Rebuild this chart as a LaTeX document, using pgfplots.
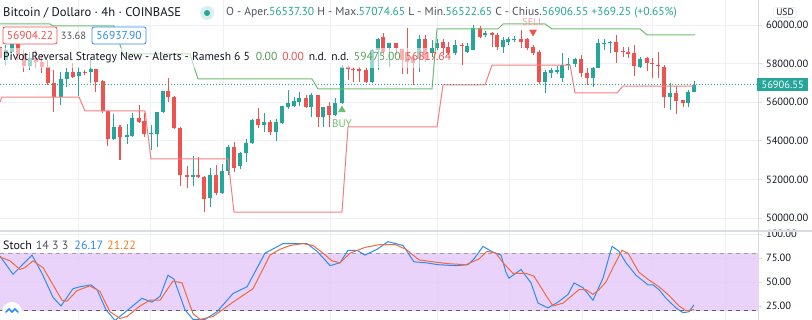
\documentclass[border=0pt]{standalone}
\usepackage{pgfplots}
\usepackage{pgfplotstable}
\pgfplotsset{compat=1.18}
\usepackage{fontspec}
\setmainfont{PT Sans}
\definecolor{tvgreen}{HTML}{26A69A}
\definecolor{tvred}{HTML}{EF5350}
\definecolor{pivgreen}{HTML}{6DBF70}
\definecolor{pivred}{HTML}{F67E82}
\definecolor{txt}{HTML}{131722}
\definecolor{txtgray}{HTML}{50535E}
\definecolor{gridc}{HTML}{EEF0F6}
\definecolor{band}{RGB}{229,200,250}
\definecolor{kblue}{HTML}{2E8CF0}
\definecolor{dorange}{HTML}{F4683A}
\definecolor{lblorange}{HTML}{FF7A1A}
\definecolor{sepc}{HTML}{D9DCE3}

\pgfplotstableread{
x o h l c
6 58186 58964 57927 58704
12 58601 59326 58290 59015
30 57876 58601 57668 58290
61 56269 57565 55855 57202
67 57202 57772 56788 57565
79 57357 57824 56321 57565
91 57565 58186 56995 57720
114 54093 55389 54042 54715
127 54197 54871 53834 54301
132 54249 55440 54197 55181
151 54352 54819 53523 54404
157 54352 55492 53679 55492
163 55492 56580 55440 56580
193 52125 53213 51658 52228
210 51037 52591 50570 52228
222 51296 52798 51244 52435
228 52435 53783 52228 53679
240 52695 53420 52539 53368
246 53368 54093 52902 53886
252 53886 55130 53834 55078
264 54819 55440 54456 54974
276 54456 55130 53990 54974
282 54922 55803 54871 55803
288 55751 56632 55648 55959
294 55803 56269 55751 56062
299 56010 56528 55803 56218
311 55751 56477 55233 56373
323 55233 55751 54715 55751
335 55337 56218 55285 55959
342 55959 57927 55907 57824
372 57047 58756 56995 58704
378 58704 59326 57668 59274
389 58808 59067 57824 59067
419 58238 59482 57565 59274
432 58549 59223 58342 58808
437 58808 59274 58704 59067
455 58549 59223 58445 58964
467 58601 59067 58549 58912
473 58704 60000 58704 59844
485 59482 59689 59378 59585
503 58860 59378 58549 59223
508 59119 59378 58964 59274
514 59249 59430 59119 59274
545 57047 57668 56477 57565
551 57513 57772 57254 57668
557 57565 57876 57461 57668
562 57254 58549 57047 57927
568 57927 58290 57668 57979
575 57979 58290 57824 58238
593 57254 57824 56788 57772
598 57772 59274 57772 59067
604 59041 59274 58704 59067
610 59067 59171 58549 59119
640 57824 58342 57772 58238
670 56269 56995 55596 56477
688 55959 56632 55751 56528
694 56537.30 57074.65 56522.65 56906.55
}\greens

\pgfplotstableread{
x o h l c
0 58860 59119 58083 58290
18 59015 59223 58186 58445
24 58445 58704 57565 57876
36 58290 58704 57772 58083
42 58083 58445 57513 57824
48 57824 58186 56891 56995
54 56995 57668 55492 56269
73 57565 58031 57254 57306
85 57565 57668 57409 57513
96 57720 57720 56528 57047
103 57098 57150 55440 55544
108 55544 55544 53731 54093
120 54715 54819 53005 54197
139 55181 55855 54922 54974
144 55026 55440 54197 54352
168 56580 57254 56010 56269
174 56269 56321 54612 54663
180 54663 54715 51658 52228
187 52228 52695 51555 52125
198 52228 53161 52073 52125
204 52125 52176 50311 50985
216 52228 52746 51192 51296
234 53679 53938 52384 52591
258 55130 55700 54663 54819
270 54974 55078 54301 54456
306 56218 56373 55700 55751
318 56373 56373 54715 55233
329 55803 56010 54715 55337
348 57824 57927 57150 57720
353 57720 57824 57047 57668
359 57720 57824 57047 57616
366 57668 57772 56995 57047
383 59378 59585 58445 58601
396 59067 59067 58445 58808
402 58756 58756 57461 58186
407 58601 59844 57461 58083
413 58342 58445 56891 58031
425 59274 59482 58083 58238
443 59119 59274 58445 58808
448 58860 59119 58445 58549
462 58964 59067 57927 58912
480 59844 59948 59326 59378
492 59585 59637 58860 59482
497 59482 59585 58704 58860
521 59274 59741 58808 59119
527 59274 59326 58704 58808
533 58860 58964 58445 58549
539 58601 58704 56943 57047
581 58238 58445 57306 57513
587 57513 57772 56891 57254
616 59119 59482 58031 58601
623 58627 58860 58342 58601
628 58601 58860 58290 58497
634 58549 58964 57357 57876
647 58290 58342 57616 58031
652 58031 58290 57254 57979
658 57901 58601 57254 57876
664 57824 57927 55700 56269
676 56477 56839 55389 56062
683 56114 56114 55751 55959
}\reds

\pgfplotstableread{
x p
0 56010
2 56269
79 56269
85 55544
145 55544
151 53057
228 53057
234 50311
342 50311
348 54715
437 54715
443 56891
485 56891
492 57927
570 57927
575 56477
617 56477
623 56839
694 56839
}\pivlow

\pgfplotstableread{
x p
0 60052
50 60052
53 59948
114 59948
123 58497
190 58497
198 57202
312 57202
318 56684
432 56684
437 59793
498 59793
503 60052
545 60052
552 59793
640 59793
647 59482
695 59482
}\pivhigh

\pgfplotstableread{
x v
0 77
13 58
32 78
42 59
53 34
61 25
73 43
80 45
91 47
97 42
106 21
115 10
128 21
142 33
152 29
160 35
168 57
174 53
185 21
193 11
205 11
217 19
233 38
247 45
265 80
283 90
307 90
317 82
325 73
330 67
340 70
348 83
357 83
365 78
377 84
388 92
403 88
414 71
426 70
438 68
456 67
468 68
474 74
483 87
493 81
501 78
506 60
509 54
521 63
531 49
538 28
548 23
558 29
568 37
574 49
583 44
593 31
603 54
612 87
619 82
626 70
636 57
648 47
653 47
659 42
666 33
676 23
683 18
689 19
694 26.17
}\stochk

\pgfplotstableread{
x v
0 76
10 72
20 63
25 65
33 72
43 65
62 31
67 30
77 41
90 46
100 40
110 19
120 12
127 14
140 25
150 31
160 31
173 51
182 49
193 17
200 11
213 14
233 29
253 43
270 78
280 84
290 88
303 90
313 88
323 80
332 72
340 70
350 80
365 86
380 89
395 89
406 84
419 73
433 71
449 69
466 68
479 74
487 82
496 80
503 70
513 59
526 59
534 56
546 36
553 25
563 28
579 42
586 42
593 37
599 42
606 50
613 65
622 83
628 80
639 60
649 52
659 45
669 36
679 25
686 20
694 21.22
}\stochd

\begin{document}
\begin{tikzpicture}[x=1pt,y=1pt]
\useasboundingbox (0,0) rectangle (812,320);
\fill[white] (0,0) rectangle (812,320);

% ---------------- main price panel ----------------
\begin{axis}[
  at={(0pt,89pt)}, anchor=south west, scale only axis,
  width=758pt, height=231pt,
  xmin=0, xmax=758, ymin=49327, ymax=61295,
  axis line style={draw=none},
  xtick={78,150,223,330,437,509,582,652,725}, xticklabels={},
  major x tick style={draw=none},
  xmajorgrids, ymajorgrids, grid style={gridc, line width=0.8pt},
  ytick={50000,52000,...,60000},
  scaled y ticks=false,
  yticklabel pos=right, ytick pos=right, tick align=outside,
  major tick length=4pt,
  major y tick style={draw=sepc, line width=0.6pt},
  yticklabel style={font=\fontsize{10.5}{12}\selectfont, text=txt, xshift=0.5pt},
  y tick label style={/pgf/number format/.cd, fixed, fixed zerofill, precision=2, 1000 sep={}, assume math mode=true},
  candle/.style n args={2}{forget plot, draw=none, mark=none,
    error bars/.cd, y dir=plus, y explicit, error mark=none,
    error bar style={solid, draw=#1, line width=#2}},
]
% wicks
\addplot[candle={tvgreen}{1pt}]
  table[x=x, y=l, y error plus expr={\thisrow{h}-\thisrow{l}}] {\greens};
\addplot[candle={tvred}{1pt}]
  table[x=x, y=l, y error plus expr={\thisrow{h}-\thisrow{l}}] {\reds};
% bodies
\addplot[candle={tvgreen}{4.2pt}]
  table[x=x, y expr={min(\thisrow{o},\thisrow{c})}, y error plus expr={max(abs(\thisrow{c}-\thisrow{o}),50)}] {\greens};
\addplot[candle={tvred}{4.2pt}]
  table[x=x, y expr={min(\thisrow{o},\thisrow{c})}, y error plus expr={max(abs(\thisrow{c}-\thisrow{o}),50)}] {\reds};
% pivot lines
\addplot[pivred, line width=1pt] table[x=x,y=p] {\pivlow};
\addplot[pivgreen, line width=1pt] table[x=x,y=p] {\pivhigh};
% last price line
\addplot[tvgreen, line width=0.8pt, dash pattern=on 1pt off 2pt] coordinates {(0,56906.55) (758,56906.55)};
% signals
\addplot[only marks, mark=triangle*, mark size=4pt, color=pivgreen] coordinates {(342,55596)};
\addplot[only marks, mark=triangle*, mark size=4pt, mark options={rotate=180}, color=tvred] coordinates {(533,59637)};
\node[text=pivgreen, font=\fontsize{11}{12}\selectfont] at (axis cs:342,54871) {BUY};
\node[text=tvred!55, font=\fontsize{10}{11}\selectfont] at (axis cs:533,60130) {SELL};
\end{axis}

% ---------------- stochastic panel ----------------
\begin{axis}[
  at={(0pt,0pt)}, anchor=south west, scale only axis,
  width=758pt, height=89pt,
  xmin=0, xmax=758, ymin=10.4, ymax=103.1,
  axis line style={draw=none},
  xtick={78,150,223,330,437,509,582,652,725}, xticklabels={},
  major x tick style={draw=none},
  xmajorgrids, ymajorgrids, grid style={gridc, line width=0.8pt},
  ytick={25,50,75,100},
  yticklabel pos=right, ytick pos=right, tick align=outside,
  major tick length=4pt,
  major y tick style={draw=sepc, line width=0.6pt},
  yticklabel style={font=\fontsize{10.5}{12}\selectfont, text=txt, xshift=0.5pt},
  y tick label style={/pgf/number format/.cd, fixed, fixed zerofill, precision=2, assume math mode=true},
]
\addplot[draw=none, fill=band, fill opacity=0.8] coordinates {(0,20) (758,20) (758,80) (0,80) (0,20)};
\addplot[draw=gray!75, line width=0.8pt, dash pattern=on 4pt off 4pt] coordinates {(0,80) (758,80)};
\addplot[draw=gray!75!black, line width=0.8pt, dash pattern=on 4pt off 4pt] coordinates {(0,20) (758,20)};
\addplot[kblue, line width=1pt] table[x=x,y=v] {\stochk};
\addplot[dorange, line width=1pt] table[x=x,y=v] {\stochd};
\end{axis}

% ---------------- frame lines ----------------
\draw[sepc, line width=1.2pt] (0,89) -- (812,89);
\draw[sepc, line width=0.8pt] (758,0) -- (758,320);

% ---------------- price labels ----------------
\node[fill=tvgreen, text=white, inner sep=0pt, minimum width=51pt, minimum height=13pt,
      font=\fontsize{10.5}{12}\selectfont, anchor=west] at (757,235.5) {56906.55};
\node[draw=sepc, rounded corners=2pt, fill=white, inner xsep=2.5pt, inner ysep=1.5pt,
      font=\fontsize{9.5}{11}\selectfont, text=txt] at (785,307.5) {USD};

% ---------------- legend ----------------
\fill[white, opacity=0.55] (0,252) rectangle (428,272);
\node[anchor=west, inner sep=0pt, text=txt, font=\fontsize{12.6}{15}\selectfont] at (3,307) {Bitcoin / Dollaro · 4h · COINBASE};
\fill[tvgreen!18] (207,307) circle (7);
\fill[tvgreen] (207,307) circle (3);
\node[anchor=west, inner sep=0pt, font=\fontsize{11.55}{14}\selectfont] at (226,307)
  {\textcolor{txtgray}{O - Aper.}\textcolor{tvgreen}{56537.30} \textcolor{txtgray}{H - Max.}\textcolor{tvgreen}{57074.65} \textcolor{txtgray}{L - Min.}\textcolor{tvgreen}{56522.65} \textcolor{txtgray}{C - Chius.}\textcolor{tvgreen}{56906.55 +369.25 (+0.65\%)}};

\node[draw=tvred, fill=white, rounded corners=2pt, line width=0.8pt, minimum width=54pt, minimum height=17pt,
      inner sep=0pt, text=tvred, font=\fontsize{11.5}{13}\selectfont] at (30,284.5) {56904.22};
\node[text=txtgray, inner sep=0pt, font=\fontsize{10.5}{12}\selectfont] at (73.5,284.5) {33.68};
\node[draw=kblue, fill=white, rounded corners=2pt, line width=0.8pt, minimum width=54pt, minimum height=17pt,
      inner sep=0pt, text=kblue, font=\fontsize{11.5}{13}\selectfont] at (119,284.5) {56937.90};

\node[anchor=west, inner sep=0pt, font=\fontsize{11.6}{14}\selectfont] at (3,262)
  {\textcolor{txt}{Pivot Reversal Strategy New - Alerts - Ramesh 6 5}\hspace{6pt}\textcolor{pivgreen!80!black}{0.00}\hspace{5pt}\textcolor{tvred}{0.00}\hspace{5pt}\textcolor{txt}{n.d.}\hspace{5pt}\textcolor{txt}{n.d.}\hspace{5pt}\textcolor{pivgreen!85!black}{59475.00}\hspace{5pt}\textcolor{tvred}{56817.64}};

\node[anchor=west, inner sep=0pt, font=\fontsize{12}{14}\selectfont] at (3,75)
  {\textcolor{txt}{Stoch}\hspace{4pt}\textcolor{txtgray}{14 3 3}\hspace{6pt}\textcolor{kblue}{26.17}\hspace{4pt}\textcolor{lblorange}{21.22}};

% logo
\fill[white] (12,8) circle (10);
\draw[kblue, line width=1.6pt, line cap=round] (6,8) -- (9,11) -- (12,8) -- (15,11) -- (18,8);
\end{tikzpicture}
\end{document}
